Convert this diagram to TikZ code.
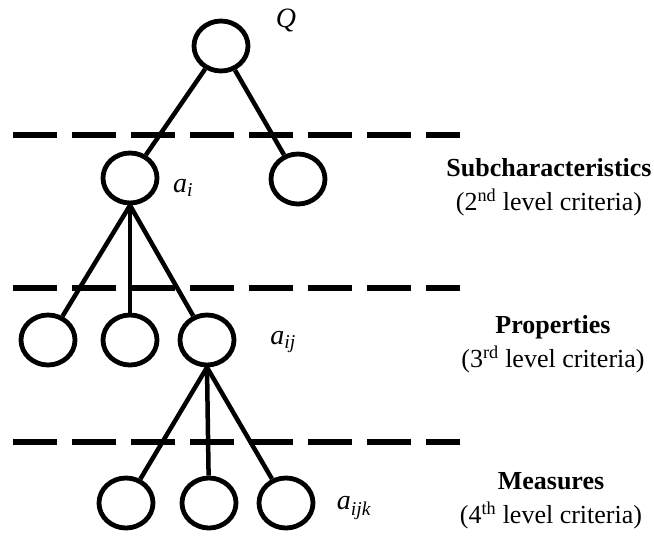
\documentclass[tikz,border=0pt]{standalone}
\usepackage{fontspec}
\setmainfont{Liberation Serif}
\usetikzlibrary{shapes.geometric}
\begin{document}
\begin{tikzpicture}[x=1pt,y=-1pt,
  crit/.style={draw,ellipse,line width=4.8pt,minimum width=54pt,minimum height=50pt,inner sep=0pt},
  conn/.style={line width=4.5pt},
  levelsep/.style={line width=5.5pt,dash pattern=on 44pt off 15pt},
  lvl/.style={align=center,inner sep=0pt,font=\fontsize{26}{34}\selectfont},
  sym/.style={inner sep=0pt,font=\fontsize{28}{30}\selectfont\itshape}]
\useasboundingbox (0,0) rectangle (654,536);
% level separators
\coordinate (d1a) at (13,135); \coordinate (d1b) at (460,135);
\coordinate (d2a) at (13,288); \coordinate (d2b) at (460,288);
\coordinate (d3a) at (13,442); \coordinate (d3b) at (460,442);
\draw[levelsep] (d1a) -- (d1b);
\draw[levelsep] (d2a) -- (d2b);
\draw[levelsep] (d3a) -- (d3b);
% nodes
\node[crit] (q) at (221,46) {};
\node[crit] (ai) at (130,178) {};
\node[crit] (b) at (298,179) {};
\node[crit] (c1) at (48,340) {};
\node[crit] (c2) at (130,340) {};
\node[crit] (aij) at (207,340) {};
\node[crit] (e1) at (126,503) {};
\node[crit] (e2) at (209,503) {};
\node[crit] (e3) at (286,503) {};
% connectors
\draw[conn] (q) -- (ai);
\draw[conn] (q) -- (b);
\draw[conn] (ai.south) -- (c1);
\draw[conn] (ai.south) -- (c2);
\draw[conn] (ai.south) -- (aij);
\draw[conn] (aij.south) -- (e1);
\draw[conn] (aij.south) -- (e2);
\draw[conn] (aij.south) -- (e3);
% symbols
\node[sym] (lq) at (286,20) {Q};
\node[sym] (lai) at (183,188) {a\textsubscript{i}};
\node[sym] (laij) at (283,342) {a\textsubscript{ij}};
\node[sym] (laijk) at (354,508) {a\textsubscript{ijk}};
% level labels
\node[lvl,anchor=north] (t2) at (549,158) {\textbf{Subcharacteristics}\\(2\textsuperscript{nd} level criteria)};
\node[lvl,anchor=north] (t3) at (553,315) {\textbf{Properties}\\(3\textsuperscript{rd} level criteria)};
\node[lvl,anchor=north] (t4) at (551,472) {\textbf{Measures}\\(4\textsuperscript{th} level criteria)};
\end{tikzpicture}
\end{document}
